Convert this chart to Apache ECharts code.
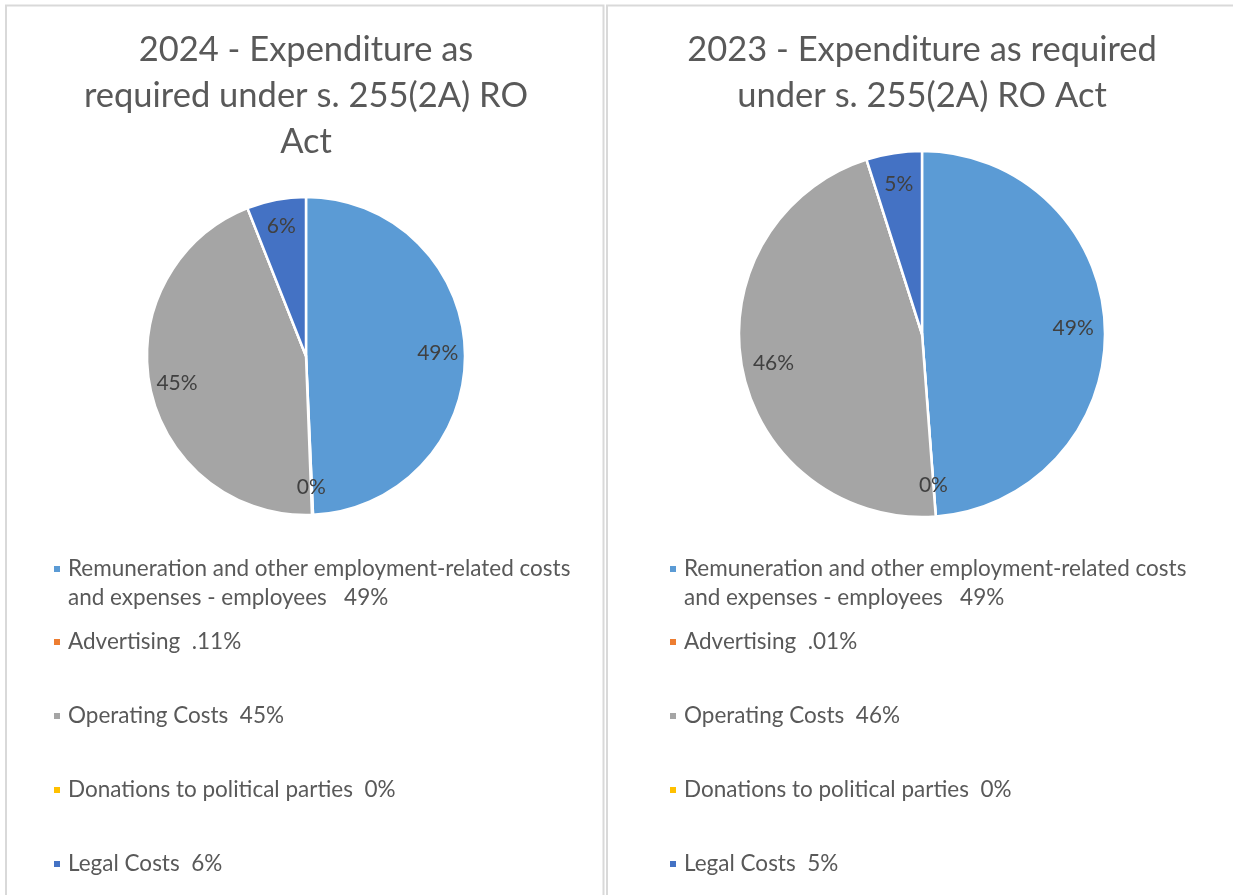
<!DOCTYPE html>
<html>
<head>
<meta charset="utf-8">
<script src="https://cdn.jsdelivr.net/npm/echarts@6/dist/echarts.min.js"></script>
<style>
  html, body { margin: 0; padding: 0; background: #fff; }
  #chart { width: 1233px; height: 895px; }
</style>
</head>
<body>
<div id="chart"></div>
<script>
// ---- data ----
const categories = [
  'Remuneration and other employment-related costs and expenses - employees',
  'Advertising',
  'Operating Costs',
  'Donations to political parties',
  'Legal Costs'
];
const values2024 = [49.3, 0.11, 44.6, 0, 6.0];
const values2023 = [48.8, 0.01, 46.3, 0, 4.9];
const legendText2024 = [
  'Remuneration and other employment-related costs\nand expenses - employees   49%',
  'Advertising  .11%',
  'Operating Costs  45%',
  'Donations to political parties  0%',
  'Legal Costs  6%'
];
const legendText2023 = [
  'Remuneration and other employment-related costs\nand expenses - employees   49%',
  'Advertising  .01%',
  'Operating Costs  46%',
  'Donations to political parties  0%',
  'Legal Costs  5%'
];
const title2024 = '2024 - Expenditure as\nrequired under s. 255(2A) RO\nAct';
const title2023 = '2023 - Expenditure as required\nunder s. 255(2A) RO Act';
const colors = ['#5B9BD5', '#ED7D31', '#A5A5A5', '#FFC000', '#4472C4'];

// ---- layout ----
const FONT = 'Lato, "Open Sans", sans-serif';
const panels = [
  { title: title2024, values: values2024, legend: legendText2024, cx: 306, cy: 356, r: 159, iconX: 52 },
  { title: title2023, values: values2023, legend: legendText2023, cx: 922, cy: 334, r: 183, iconX: 668 }
];
const legendCenters = [569, 642, 716, 790, 864];
const LH = 29;

const chart = echarts.init(document.getElementById('chart'), null, { renderer: 'canvas' });

const titles = [], series = [], legends = [];
panels.forEach((p, pi) => {
  titles.push({
    text: p.title,
    left: p.cx, top: 27, textAlign: 'center', padding: 0,
    textStyle: { fontFamily: FONT, fontSize: 34.5, fontWeight: 'normal', color: '#595959', lineHeight: 46 }
  });
  const data = categories.map((c, i) => ({ name: c, value: p.values[i] }));
  series.push({
    type: 'pie', name: 'pie' + pi,
    center: [p.cx, p.cy], radius: [0, p.r],
    startAngle: 90, clockwise: true,
    avoidLabelOverlap: false,
    data: data,
    label: { show: false }, labelLine: { show: false },
    itemStyle: { borderColor: '#fff', borderWidth: 2.5 },
    emphasis: { disabled: true },
    animation: false
  });
  // label carrier ring (transparent) so labels sit at ~0.8 of the radius
  series.push({
    type: 'pie', name: 'lab' + pi, silent: true,
    center: [p.cx, p.cy], radius: [p.r * 0.62, p.r],
    startAngle: 90, clockwise: true,
    avoidLabelOverlap: false,
    data: categories.map((c, i) => ({ name: c, value: p.values[i], label: { show: p.values[i] > 0 } })),
    itemStyle: { color: 'rgba(0,0,0,0)', borderWidth: 0 },
    label: {
      show: true, position: 'inside',
      formatter: (prm) => Math.round(prm.percent) + '%',
      fontFamily: FONT, fontSize: 21, color: '#404040'
    },
    labelLine: { show: false },
    emphasis: { disabled: true },
    animation: false
  });
  categories.forEach((c, i) => {
    const twoLine = p.legend[i].indexOf('\n') >= 0;
    const lines = twoLine ? 3 : 1;
    legends.push({
      data: [c],
      left: p.iconX,
      top: legendCenters[i] - lines * LH / 2,
      padding: 0,
      itemWidth: 8, itemHeight: 8, icon: 'rect',
      selectedMode: false,
      formatter: () => (twoLine ? '\n' : '') + p.legend[i],
      textStyle: { fontFamily: FONT, fontSize: 22.5, color: '#595959', lineHeight: LH, padding: [0, 0, 0, 2] }
    });
  });
});

chart.setOption({
  color: colors,
  animation: false,
  title: titles,
  legend: legends,
  series: series,
  graphic: [
    { type: 'rect', shape: { x: 6, y: 5.5, width: 597.5, height: 900 }, style: { fill: 'none', stroke: '#d9d9d9', lineWidth: 2 }, silent: true },
    { type: 'rect', shape: { x: 607, y: 5.5, width: 640, height: 900 }, style: { fill: 'none', stroke: '#d9d9d9', lineWidth: 2 }, silent: true }
  ]
});
</script>
</body>
</html>
